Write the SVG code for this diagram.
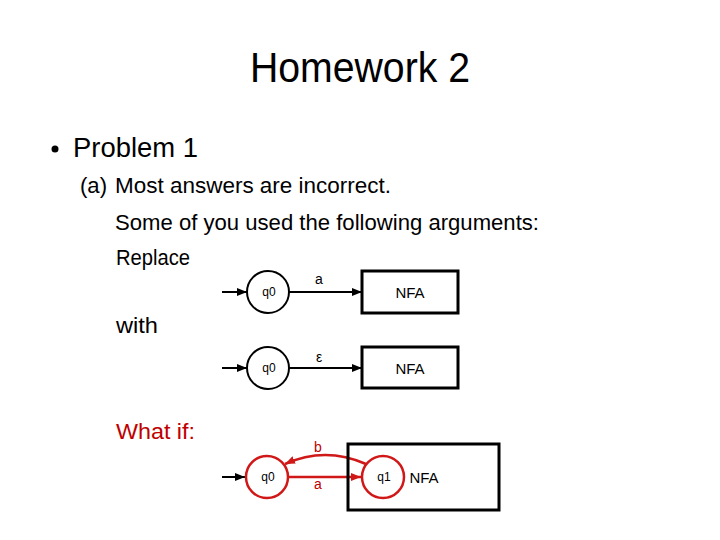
<svg xmlns="http://www.w3.org/2000/svg" width="720" height="540" viewBox="0 0 720 540">
<style>
  .t { font-family: "Liberation Sans", Arial, sans-serif; fill: #000; }
  .title { font-size: 42px; }
  .l1 { font-size: 27px; }
  .l2 { font-size: 22px; }
  .red { fill: #C00000; }
  .st { font-size: 12px; font-family: "Liberation Sans", Arial, sans-serif; }
  .lab { font-size: 14px; font-family: "Liberation Sans", Arial, sans-serif; }
  .nfa { font-size: 15px; font-family: "Liberation Sans", Arial, sans-serif; }
  .circ { fill: #fff; stroke: #000; stroke-width: 2; }
  .rcirc { fill: #fff; stroke: #D01818; stroke-width: 2.5; }
  .box { fill: none; stroke: #000; stroke-width: 3; }
  .edge { fill: none; stroke: #000; stroke-width: 2; }
  .redge { fill: none; stroke: #D01818; stroke-width: 2.5; }
</style>
<defs>
  <marker id="ab" markerUnits="userSpaceOnUse" markerWidth="10" markerHeight="10" viewBox="0 0 10 10" refX="10" refY="5" orient="auto">
    <path d="M0,1 L10,5 L0,9 z" fill="#000"/>
  </marker>
  <marker id="ar" markerUnits="userSpaceOnUse" markerWidth="10" markerHeight="10" viewBox="0 0 10 10" refX="10" refY="5" orient="auto">
    <path d="M0,1 L10,5 L0,9 z" fill="#D01818"/>
  </marker>
</defs>
<rect width="720" height="540" fill="#fff"/>

<g id="text">
  <text class="t title" x="250" y="82" textLength="220" lengthAdjust="spacingAndGlyphs">Homework 2</text>
  <circle cx="55" cy="149" r="3.5" fill="#000"/>
  <text class="t l1" x="73" y="157" textLength="125" lengthAdjust="spacingAndGlyphs">Problem 1</text>
  <text class="t l2" x="80" y="193" textLength="27" lengthAdjust="spacingAndGlyphs">(a)</text>
  <text class="t l2" x="115" y="193" textLength="276" lengthAdjust="spacingAndGlyphs">Most answers are incorrect.</text>
  <text class="t l2" x="115" y="230" textLength="424" lengthAdjust="spacingAndGlyphs">Some of you used the following arguments:</text>
  <text class="t l2" x="116" y="265" textLength="74" lengthAdjust="spacingAndGlyphs">Replace</text>
  <text class="t l2" x="116" y="333" textLength="42" lengthAdjust="spacingAndGlyphs">with</text>
  <text class="t l2 red" x="116" y="439" textLength="79" lengthAdjust="spacingAndGlyphs">What if:</text>
</g>

<g id="connectors">
  <line class="edge" x1="222" y1="292" x2="247" y2="292" marker-end="url(#ab)"/>
  <line class="edge" x1="289" y1="292" x2="362" y2="292" marker-end="url(#ab)"/>
  <line class="edge" x1="222" y1="368" x2="247" y2="368" marker-end="url(#ab)"/>
  <line class="edge" x1="289" y1="368" x2="362" y2="368" marker-end="url(#ab)"/>
  <line class="edge" x1="222" y1="477" x2="245" y2="477" marker-end="url(#ab)"/>
  <line class="redge" x1="289" y1="477" x2="361" y2="477" marker-end="url(#ar)"/>
  <path class="redge" d="M366,464 Q325,446 285,464" marker-end="url(#ar)"/>
  <text class="lab" x="319" y="284" text-anchor="middle">a</text>
  <text class="lab" x="319" y="362" text-anchor="middle">ε</text>
  <text class="lab red" x="318" y="452" text-anchor="middle" style="fill:#C00000">b</text>
  <text class="lab red" x="318" y="489" text-anchor="middle" style="fill:#C00000">a</text>
</g>

<g id="q0-a">
  <circle class="circ" cx="268" cy="292" r="21"/>
  <text class="st" x="269" y="296" text-anchor="middle">q0</text>
</g>
<g id="nfa-a">
  <rect class="box" x="362" y="271" width="96" height="42"/>
  <text class="nfa" x="410" y="298" text-anchor="middle">NFA</text>
</g>

<g id="q0-b">
  <circle class="circ" cx="268" cy="368" r="21"/>
  <text class="st" x="269" y="372" text-anchor="middle">q0</text>
</g>
<g id="nfa-b">
  <rect class="box" x="362" y="347" width="96" height="41"/>
  <text class="nfa" x="410" y="374" text-anchor="middle">NFA</text>
</g>

<g id="nfa-c">
  <rect class="box" x="348" y="444" width="151" height="66"/>
  <text class="nfa" x="424" y="483" text-anchor="middle">NFA</text>
</g>
<g id="q0-c">
  <circle class="rcirc" cx="267" cy="477" r="21"/>
  <text class="st" x="268" y="481" text-anchor="middle">q0</text>
</g>
<g id="q1-c">
  <circle class="rcirc" cx="383" cy="477" r="21"/>
  <text class="st" x="384" y="481" text-anchor="middle">q1</text>
</g>
</svg>
